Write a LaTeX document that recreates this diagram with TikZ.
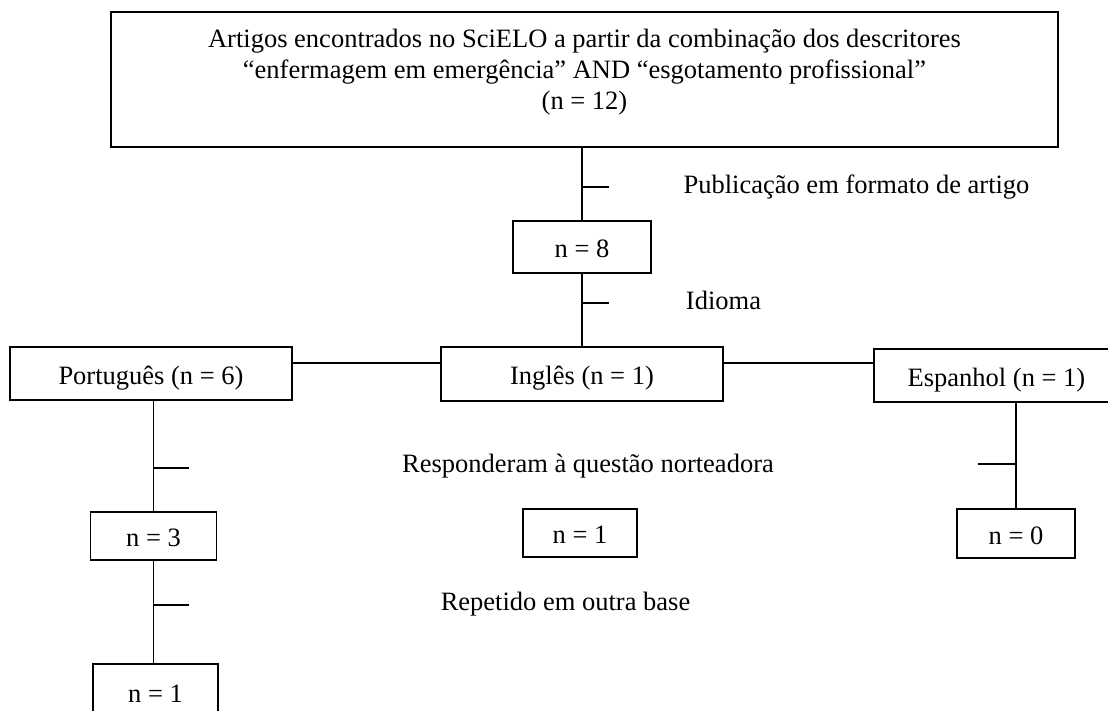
\documentclass[tikz,border=0pt]{standalone}
\usepackage{fontspec}
\setmainfont{Liberation Serif}
\newcommand{\diagfont}{\fontsize{26.5}{31}\selectfont}
\begin{document}
\begin{tikzpicture}[x=1pt,y=-1pt,
  box/.style={draw, line width=1.9pt, inner sep=0pt, font=\diagfont, text height=22pt, text depth=0.4pt},
  conn/.style={line width=1.7pt},
  lbl/.style={inner sep=0pt, font=\diagfont, text height=18.5pt, text depth=5.8pt}]
\useasboundingbox (0,0) rectangle (1108,710);
\clip (0,0) rectangle (1108,710);
\fill[white] (0,0) rectangle (1108,710);
% boxes
\node[box, minimum width=947pt, minimum height=135pt] (top) at (584.5,79.5) {};
\node[align=center, font=\diagfont, inner sep=0pt] (toptext) at (584.5,72.5) {Artigos encontrados no SciELO a partir da combinação dos descritores\\“enfermagem em emergência” AND “esgotamento profissional”\\(n = 12)};
\node[box, minimum width=138pt, minimum height=52pt] (n8) at (582,247) {n = 8};
\node[box, minimum width=282pt, minimum height=54pt] (ing) at (582,374) {Inglês (n = 1)};
\node[box, minimum width=282pt, minimum height=53pt] (por) at (151,373.5) {Português (n = 6)};
\node[box, minimum width=245pt, minimum height=53pt] (esp) at (996.5,375.5) {Espanhol (n = 1)};
\node[box, minimum width=126pt, minimum height=48pt] (n3) at (153.5,536) {n = 3};
\node[box, minimum width=114pt, minimum height=48pt] (nm) at (580,533) {n = 1};
\node[box, minimum width=118pt, minimum height=49pt] (n0) at (1016,533.5) {n = 0};
\node[box, minimum width=125pt, minimum height=56pt] (nb) at (155.5,692) {n = 1};
% connectors
\draw[conn] (top.south -| n8.north) -- (n8.north);
\coordinate (t1) at (582,187);
\draw[conn] (t1) -- ++(27,0);
\draw[conn] (n8.south) -- (ing.north);
\coordinate (t2) at (582,303);
\draw[conn] (t2) -- ++(27,0);
\coordinate (hrow) at (0,363);
\draw[conn] (por.east |- hrow) -- (ing.west |- hrow);
\draw[conn] (ing.east |- hrow) -- (esp.west |- hrow);
\draw[conn] (n3.north |- por.south) -- (n3.north);
\coordinate (t3) at (153.5,468);
\draw[conn] (t3) -- ++(35,0);
\draw[conn] (n3.south) -- (n3.south |- nb.north);
\coordinate (t4) at (153.5,605);
\draw[conn] (t4) -- ++(35,0);
\draw[conn] (n0.north |- esp.south) -- (n0.north);
\coordinate (t5) at (1016,464);
\draw[conn] (t5) -- ++(-38,0);
% labels
\node[lbl] (l1) at (856.5,187) {Publicação em formato de artigo};
\node[lbl] (l2) at (723.5,303) {Idioma};
\node[lbl] (l3) at (588,466) {Responderam à questão norteadora};
\node[lbl] (l4) at (565.5,604) {Repetido em outra base};
\end{tikzpicture}
\end{document}
